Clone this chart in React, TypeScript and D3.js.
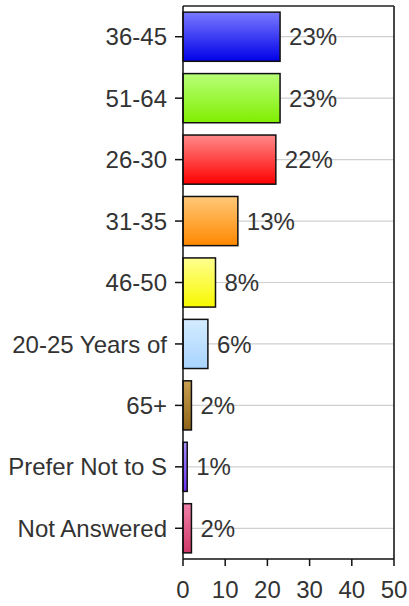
import React from "react";
import * as d3 from "d3";

const categories = [
  "36-45",
  "51-64",
  "26-30",
  "31-35",
  "46-50",
  "20-25 Years of",
  "65+",
  "Prefer Not to S",
  "Not Answered",
];
const values = [23, 23, 22, 13, 7.7, 5.9, 2, 1, 2];
const valueLabels = ["23%", "23%", "22%", "13%", "8%", "6%", "2%", "1%", "2%"];
const topColors = ["#7a7aff", "#b8ff78", "#ff8a8a", "#ffc878", "#ffff90", "#d4ecff", "#c8a050", "#a890ff", "#f080a8"];
const bottomColors = ["#0000e8", "#80ee00", "#ff0000", "#ff8800", "#f8f800", "#a8d4ff", "#906418", "#6a30f0", "#d03868"];
const xTicks = [0, 10, 20, 30, 40, 50];

const W = 409;
const H = 606;
const left = 183;
const right = 394;
const top = 6;
const bottom = 559;
const font = "'Liberation Sans', Arial, sans-serif";
const fs = 24;

export default function App() {
  const x = d3.scaleLinear().domain([0, 50]).range([left, right]);
  const y = d3
    .scaleBand<string>()
    .domain(categories)
    .range([top, bottom])
    .paddingInner(0.2)
    .paddingOuter(0.1);
  const bw = y.bandwidth();

  return (
    <div style={{ position: "absolute", left: 0, top: 0 }}>
      <svg width={W} height={H} style={{ display: "block", background: "#fff" }}>
        <defs>
          {categories.map((c, i) => (
            <linearGradient key={c} id={`g${i}`} x1="0" y1="0" x2="0" y2="1">
              <stop offset="0%" stopColor={topColors[i]} />
              <stop offset="100%" stopColor={bottomColors[i]} />
            </linearGradient>
          ))}
        </defs>
        {categories.map((c) => (
          <line
            key={"gl" + c}
            x1={left}
            x2={right}
            y1={(y(c) as number) + bw / 2}
            y2={(y(c) as number) + bw / 2}
            stroke="#cfcfcf"
            strokeWidth={1.2}
          />
        ))}
        <line x1={left} x2={right} y1={top} y2={top} stroke="#222" strokeWidth={1.5} />
        <line x1={right} x2={right} y1={top} y2={bottom} stroke="#333" strokeWidth={1.8} />
        {categories.map((c, i) => (
          <rect
            key={"b" + c}
            x={x(0)}
            y={y(c)}
            width={x(values[i]) - x(0)}
            height={bw}
            fill={`url(#g${i})`}
            stroke="#111"
            strokeWidth={1.5}
          />
        ))}
        {categories.map((c, i) => (
          <text
            key={"v" + c}
            x={x(values[i]) + 9}
            y={(y(c) as number) + bw / 2}
            dy="0.36em"
            fontFamily={font}
            fontSize={fs}
            fill="#333"
          >
            {valueLabels[i]}
          </text>
        ))}
        <line x1={left} x2={left} y1={top} y2={bottom} stroke="#111" strokeWidth={1.5} />
        {categories.map((c) => (
          <g key={"yt" + c}>
            <line
              x1={left - 8}
              x2={left}
              y1={(y(c) as number) + bw / 2}
              y2={(y(c) as number) + bw / 2}
              stroke="#111"
              strokeWidth={1.5}
            />
            <text
              x={left - 16}
              y={(y(c) as number) + bw / 2}
              dy="0.36em"
              textAnchor="end"
              fontFamily={font}
              fontSize={fs}
              fill="#333"
            >
              {c}
            </text>
          </g>
        ))}
        <line x1={left} x2={right} y1={bottom} y2={bottom} stroke="#111" strokeWidth={1.5} />
        {xTicks.map((t) => (
          <g key={"xt" + t}>
            <line x1={x(t)} x2={x(t)} y1={bottom} y2={bottom + 7} stroke="#111" strokeWidth={1.5} />
            <text
              x={x(t)}
              y={598}
              textAnchor="middle"
              fontFamily={font}
              fontSize={fs}
              fill="#333"
            >
              {t}
            </text>
          </g>
        ))}
      </svg>
    </div>
  );
}
